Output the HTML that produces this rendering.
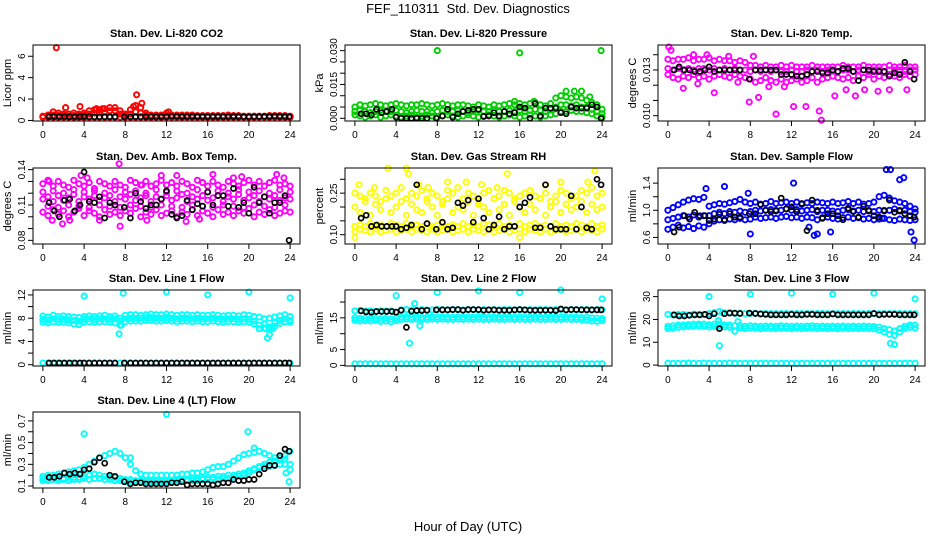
<!DOCTYPE html>
<html><head><meta charset="utf-8"><style>
body{margin:0;background:#fff}
svg{display:block;font-family:"Liberation Sans",sans-serif}
</style></head><body>
<svg id="c" width="936" height="540" viewBox="0 0 936 540">
<text x="468" y="13" text-anchor="middle" font-size="13" style="white-space:pre">FEF_110311  Std. Dev. Diagnostics</text>
<text x="468" y="531" text-anchor="middle" font-size="13">Hour of Day (UTC)</text>
</svg>
<script>
const H = [0,0.5,1,1.5,2,2.5,3,3.5,4,4.5,5,5.5,6,6.5,7,7.5,8,8.5,9,9.5,10,10.5,11,11.5,12,12.5,13,13.5,14,14.5,15,15.5,16,16.5,17,17.5,18,18.5,19,19.5,20,20.5,21,21.5,22,22.5,23,23.5,24];
const BH = [0.6,1.1,1.6,2.1,2.6,3.1,3.6,4.0,4.5,5.0,5.5,6.0,6.5,7.0,7.9,8.5,9.0,9.5,10.0,10.5,11.0,11.5,12.0,12.5,13.0,13.5,14.0,14.5,15.0,15.5,16.0,16.5,17.0,17.5,18.0,18.5,19.0,19.5,20.0,20.5,21.0,21.5,22.0,22.5,23.0,23.5,23.9];
const xTicks = [0,4,8,12,16,20,24];

// P1 CO2
const co2Base = [0.3,0.3,0.3,0.3,0.3,0.3,0.3,0.3,0.3,0.3,0.3,0.3,0.3,0.3,0.3,0.3,0.3,0.3,0.3,0.3,0.3,0.3,0.3,0.3,0.3,0.3,0.3,0.3,0.3,0.3,0.3,0.3,0.3,0.3,0.3,0.3,0.3,0.3,0.3,0.3,0.3,0.3,0.3,0.3,0.3,0.3,0.3,0.3,0.3];
const co2Mid = [0.35,0.4,0.5,0.45,0.45,0.4,0.45,0.45,0.5,0.6,0.7,0.7,0.8,0.9,0.9,0.6,0.45,0.6,0.8,0.7,0.5,0.4,0.4,0.4,0.45,0.4,0.4,0.4,0.4,0.4,0.38,0.38,0.38,0.38,0.38,0.38,0.4,0.38,0.38,0.36,0.36,0.36,0.36,0.36,0.38,0.38,0.38,0.38,0.36];
const co2Top = [0.4,0.5,0.8,0.7,0.6,0.6,0.7,0.6,0.7,0.9,1.0,1.0,1.1,1.2,1.2,0.9,0.6,1.0,1.4,1.2,0.7,0.5,0.5,0.5,0.7,0.5,0.5,0.5,0.5,0.5,0.45,0.45,0.45,0.45,0.45,0.45,0.5,0.45,0.45,0.4,0.4,0.4,0.4,0.4,0.45,0.45,0.45,0.45,0.4];
const co2OutH = [1.3,9.1,3.6,2.2,9.6,8.8,12.2,1.0,5.2,5.8];
const co2OutV = [6.8,2.4,1.3,1.2,1.6,1.3,0.8,0.8,1.1,1.1];
const co2Black = [0.35,0.36,0.35,0.34,0.35,0.33,0.35,0.36,0.35,0.34,0.35,0.35,0.36,0.35,0.33,0.35,0.36,0.35,0.34,0.35,0.33,0.34,0.35,0.4,0.38,0.36,0.35,0.37,0.35,0.35,0.34,0.35,0.36,0.35,0.34,0.36,0.35,0.34,0.33,0.35,0.36,0.38,0.36,0.4,0.37,0.36,0.35];

// P2 Pressure
const presBase = [0.0015,0.001,0.0005,0.001,0.0015,0.0005,0.001,0.0015,0.001,0.0005,0.001,0.0015,0.0005,0.001,0.0015,0.001,0.0005,0.001,0.0015,0.001,0.0005,0.001,0.0015,0.001,0.0005,0.001,0.0015,0.001,0.0005,0.001,0.0015,0.001,0.0005,0.001,0.0015,0.001,0.0005,0.001,0.0015,0.002,0.003,0.003,0.0035,0.003,0.003,0.0025,0.002,0.001,0.0005];
const presMid = [0.003,0.0035,0.003,0.0025,0.003,0.0035,0.003,0.003,0.0035,0.003,0.0025,0.003,0.0035,0.003,0.003,0.0025,0.003,0.0035,0.003,0.003,0.0035,0.003,0.0025,0.003,0.0035,0.003,0.003,0.0035,0.003,0.003,0.0035,0.003,0.0035,0.003,0.0035,0.004,0.0035,0.003,0.004,0.005,0.006,0.006,0.0055,0.006,0.005,0.005,0.004,0.003,0.002];
const presTop = [0.005,0.006,0.0055,0.006,0.0065,0.006,0.0055,0.006,0.0065,0.006,0.0055,0.006,0.006,0.0065,0.006,0.0055,0.006,0.0065,0.006,0.0055,0.006,0.006,0.0055,0.005,0.006,0.0055,0.005,0.006,0.0055,0.006,0.0065,0.006,0.0065,0.006,0.0065,0.007,0.006,0.0055,0.0065,0.009,0.01,0.0095,0.009,0.0095,0.009,0.008,0.007,0.006,0.004];
const presOutH = [8,16,23.9,20.5,21.3,22,15.5,17.4,22.8];
const presOutV = [0.030,0.029,0.030,0.012,0.012,0.012,0.0075,0.0075,0.0095];
const presBlack = [0.002,0.002,0.0015,0.004,0.0025,0.003,0.004,0.0005,0.0,0.0,0.0,0.0,0.0,0.0,0.0,0.001,0.004,0.0005,0.002,0.003,0.0035,0.004,0.004,0.0008,0.001,0.0025,0.001,0.003,0.002,0.0025,0.005,0.0045,0.0,0.0065,0.001,0.0045,0.0045,0.0045,0.0025,0.002,0.005,0.0045,0.0045,0.0045,0.006,0.005,0.0];

// P3 Li-820 temp
const tempTop = [0.0137,0.0136,0.0137,0.0137,0.0138,0.0136,0.0137,0.0137,0.0138,0.0136,0.0137,0.0136,0.0136,0.0135,0.0136,0.0135,0.0133,0.0133,0.0132,0.0133,0.0132,0.0132,0.0133,0.0132,0.0133,0.0132,0.0132,0.0132,0.0133,0.0132,0.0132,0.0132,0.0132,0.0132,0.0133,0.0132,0.0132,0.0132,0.0133,0.0132,0.0132,0.0132,0.0132,0.0133,0.0132,0.0132,0.0133,0.0132,0.0132];
const tempMid = [0.0131,0.0130,0.0131,0.0130,0.0131,0.0130,0.0131,0.0131,0.0130,0.0131,0.0130,0.0131,0.0130,0.0131,0.0130,0.0130,0.0129,0.0130,0.0129,0.0130,0.0129,0.0130,0.0129,0.0129,0.0130,0.0129,0.0129,0.0130,0.0129,0.0130,0.0129,0.0130,0.0130,0.0129,0.0130,0.0130,0.0129,0.0130,0.0130,0.0129,0.0130,0.0130,0.0129,0.0130,0.0130,0.0130,0.0129,0.0130,0.0130];
const tempLow = [0.0127,0.0125,0.0124,0.0126,0.0125,0.0127,0.0125,0.0126,0.0124,0.0126,0.0127,0.0126,0.0125,0.0127,0.0126,0.0125,0.0124,0.0122,0.0123,0.0125,0.0123,0.0122,0.0124,0.0122,0.0123,0.0124,0.0122,0.0123,0.0125,0.0122,0.0124,0.0125,0.0126,0.0125,0.0124,0.0125,0.0123,0.0126,0.0125,0.0127,0.0124,0.0126,0.0125,0.0127,0.0126,0.0125,0.0127,0.0126,0.0127];
const tempOutH = [0.1,14.7,14.9,10.5,12.2,13.4,7.9,1.5,2.9,4.5,9.8,16.2,17.3,18.2,21.5,23.2,8.8,3.8,8.3,0.3,2.5,5.9,11.3,19.1,20.4,6.8];
const tempOutV = [0.0145,0.0103,0.0097,0.0101,0.0106,0.0106,0.0109,0.0118,0.0121,0.0115,0.0119,0.0113,0.0117,0.0113,0.0117,0.0117,0.0112,0.014,0.0139,0.0143,0.014,0.0139,0.0119,0.0117,0.0116,0.0122];
const tempBlack = [0.0130,0.0132,0.0130,0.0130,0.0129,0.0129,0.0130,0.0132,0.0129,0.0130,0.0130,0.0130,0.0130,0.0130,0.0124,0.0130,0.0130,0.0130,0.0130,0.0130,0.0127,0.0127,0.0127,0.0126,0.0126,0.0127,0.0129,0.0129,0.0128,0.0128,0.0130,0.0129,0.0131,0.0131,0.0129,0.0123,0.0130,0.0130,0.0129,0.0129,0.0129,0.0126,0.0128,0.0127,0.0135,0.0129,0.0124];

// P4 amb box
const ambTop = [0.128,0.131,0.126,0.13,0.127,0.125,0.131,0.128,0.126,0.129,0.124,0.13,0.128,0.126,0.13,0.127,0.125,0.131,0.129,0.127,0.13,0.126,0.128,0.131,0.127,0.129,0.126,0.13,0.128,0.125,0.131,0.129,0.126,0.13,0.127,0.125,0.13,0.128,0.126,0.129,0.131,0.127,0.13,0.126,0.129,0.131,0.127,0.128,0.126];
const ambMid = [0.115,0.117,0.113,0.118,0.114,0.116,0.119,0.113,0.117,0.115,0.118,0.114,0.116,0.118,0.113,0.117,0.115,0.119,0.114,0.116,0.118,0.113,0.117,0.115,0.118,0.114,0.116,0.119,0.113,0.117,0.115,0.118,0.114,0.116,0.118,0.113,0.117,0.115,0.119,0.114,0.116,0.118,0.113,0.117,0.115,0.118,0.114,0.116,0.115];
const ambMid2 = [0.121,0.109,0.122,0.108,0.12,0.11,0.123,0.109,0.121,0.108,0.122,0.11,0.12,0.109,0.123,0.108,0.121,0.11,0.122,0.109,0.12,0.108,0.123,0.11,0.121,0.109,0.122,0.108,0.12,0.11,0.123,0.109,0.121,0.108,0.122,0.11,0.12,0.109,0.123,0.108,0.121,0.11,0.122,0.109,0.12,0.108,0.123,0.11,0.121];
const ambLow = [0.104,0.101,0.106,0.102,0.105,0.1,0.104,0.107,0.101,0.105,0.103,0.1,0.106,0.102,0.104,0.101,0.105,0.103,0.107,0.1,0.104,0.102,0.106,0.101,0.103,0.105,0.1,0.104,0.102,0.106,0.101,0.105,0.103,0.1,0.106,0.102,0.104,0.101,0.105,0.103,0.107,0.1,0.104,0.102,0.106,0.101,0.103,0.105,0.104];
const ambOutH = [7.4,3.7,11.5,13,16.5,22.7,0.6,5.5,1.9,7.5,0.9,23.4,9.6,4.3,15.2,19.3,2.6,10.1,18.5,13.9];
const ambOutV = [0.145,0.135,0.135,0.135,0.136,0.136,0.13,0.097,0.094,0.092,0.097,0.133,0.127,0.133,0.098,0.134,0.097,0.097,0.133,0.096];
const ambBlack = [0.112,0.105,0.1,0.114,0.115,0.105,0.11,0.138,0.113,0.112,0.117,0.099,0.112,0.11,0.108,0.099,0.12,0.113,0.107,0.11,0.11,0.115,0.122,0.102,0.099,0.101,0.114,0.106,0.111,0.109,0.121,0.11,0.118,0.118,0.109,0.124,0.108,0.112,0.103,0.125,0.112,0.117,0.103,0.112,0.112,0.118,0.08];

// P5 RH
const rhBase = [0.11,0.12,0.115,0.11,0.12,0.11,0.115,0.12,0.11,0.115,0.12,0.11,0.12,0.115,0.11,0.12,0.11,0.115,0.12,0.11,0.115,0.12,0.11,0.12,0.115,0.11,0.12,0.11,0.115,0.12,0.11,0.115,0.12,0.11,0.12,0.115,0.11,0.12,0.11,0.115,0.12,0.11,0.115,0.12,0.11,0.12,0.115,0.11,0.12];
const rhLow2 = [0.13,0.135,0.13,0.14,0.13,0.135,0.13,0.14,0.135,0.13,0.14,0.13,0.135,0.13,0.14,0.13,0.135,0.14,0.13,0.135,0.13,0.14,0.13,0.135,0.13,0.14,0.135,0.13,0.14,0.13,0.135,0.13,0.14,0.13,0.135,0.14,0.13,0.135,0.13,0.14,0.13,0.135,0.13,0.14,0.135,0.13,0.14,0.13,0.135];
const rhMid = [0.2,0.18,0.22,0.17,0.21,0.19,0.23,0.18,0.2,0.22,0.17,0.21,0.19,0.18,0.22,0.2,0.17,0.21,0.23,0.18,0.2,0.19,0.22,0.17,0.21,0.2,0.18,0.23,0.19,0.21,0.17,0.22,0.2,0.18,0.21,0.19,0.23,0.17,0.2,0.22,0.18,0.21,0.19,0.2,0.22,0.18,0.21,0.19,0.2];
const rhTop = [0.25,0.24,0.23,0.25,0.24,0.22,0.26,0.24,0.25,0.27,0.23,0.25,0.24,0.26,0.23,0.25,0.24,0.22,0.26,0.25,0.27,0.23,0.25,0.24,0.22,0.25,0.26,0.23,0.24,0.26,0.25,0.23,0.24,0.25,0.26,0.24,0.23,0.25,0.22,0.24,0.26,0.25,0.23,0.24,0.26,0.25,0.27,0.24,0.25];
const rhOutH = [3.2,5,5.2,0.4,9,10.8,14.8,20,23.3,22.6,0,16,1.9,6.2,12.3,18.5,7.1,13.8];
const rhOutV = [0.34,0.34,0.32,0.28,0.29,0.29,0.32,0.29,0.33,0.29,0.09,0.09,0.27,0.28,0.28,0.28,0.27,0.27];
const rhBlack = [0.16,0.17,0.13,0.135,0.13,0.13,0.13,0.13,0.12,0.125,0.135,0.28,0.12,0.14,0.12,0.145,0.12,0.125,0.215,0.205,0.225,0.145,0.23,0.16,0.12,0.135,0.165,0.12,0.13,0.13,0.2,0.215,0.235,0.125,0.125,0.28,0.13,0.12,0.12,0.12,0.24,0.12,0.2,0.125,0.12,0.3,0.28];

// P6 Sample flow
const sfLow = [0.72,0.75,0.78,0.74,0.76,0.73,0.77,0.75,0.8,0.84,0.86,0.85,0.87,0.86,0.88,0.86,0.87,0.9,0.88,0.89,0.9,0.88,0.9,0.91,0.89,0.9,0.88,0.9,0.89,0.86,0.89,0.9,0.88,0.87,0.89,0.9,0.88,0.89,0.87,0.88,0.86,0.87,0.88,0.86,0.85,0.87,0.86,0.85,0.86];
const sfMid = [0.86,0.88,0.9,0.92,0.9,0.93,0.9,0.92,0.92,0.95,0.97,0.95,0.98,0.97,0.99,0.97,0.98,1.0,0.99,1.0,1.01,0.99,1.0,1.02,1.0,1.01,0.99,1.0,1.01,0.98,1.0,1.0,0.99,0.98,1.0,1.01,0.99,1.0,0.98,0.99,0.98,1.0,0.99,1.0,1.02,0.99,1.0,0.98,0.97];
const sfTop = [1.0,1.04,1.08,1.12,1.15,1.17,1.16,1.19,1.06,1.08,1.1,1.09,1.11,1.13,1.16,1.12,1.1,1.12,1.09,1.1,1.13,1.1,1.11,1.12,1.1,1.12,1.09,1.11,1.1,1.12,1.11,1.1,1.12,1.1,1.11,1.13,1.1,1.12,1.09,1.1,1.12,1.2,1.22,1.18,1.14,1.12,1.1,1.06,1.02];
const sfOutH = [5.5,7.8,21.2,21.6,22.5,23.9,14.5,8,20.8,22.9,3.7,12.2,15.8,23.6,13.7,14.2];
const sfOutV = [1.35,1.25,1.6,1.6,1.45,0.56,0.65,0.65,0.88,1.48,1.32,1.4,0.68,0.68,0.75,0.63];
const sfBlack = [0.68,0.75,0.92,0.87,0.97,0.92,0.92,0.85,0.87,0.94,0.86,0.95,0.9,0.9,0.95,0.95,1.08,1.0,0.98,1.0,1.18,1.02,1.05,0.98,1.1,0.7,1.15,1.0,0.88,0.95,0.95,0.92,0.86,1.03,0.98,0.9,1.06,1.0,0.92,0.9,1.0,1.15,0.97,1.0,0.95,0.92,0.9];

// P7 Line 1
const l1Top = [8.4,8.2,8.5,8.3,8.4,8.3,8.2,8.1,8.3,8.4,8.3,8.4,8.5,8.3,8.4,8.0,8.5,8.6,8.6,8.5,8.6,8.7,8.6,8.6,8.7,8.6,8.5,8.6,8.6,8.5,8.6,8.5,8.5,8.6,8.5,8.4,8.5,8.5,8.4,8.6,8.5,8.3,8.2,7.9,8.0,8.2,8.4,8.6,8.3];
const l1Mid = [7.8,7.7,7.9,7.8,7.8,7.7,7.6,7.5,7.8,7.9,7.8,7.9,7.9,7.8,7.9,7.5,7.9,8.0,8.0,8.0,8.1,8.1,8.0,8.0,8.1,8.0,7.9,8.0,8.0,7.9,8.0,7.9,7.9,8.0,7.9,7.8,7.9,7.9,7.8,7.9,7.8,7.5,6.8,7.0,6.5,7.2,7.6,7.9,7.6];
const l1Low = [7.3,7.2,7.4,7.3,7.3,7.2,7.0,6.9,7.3,7.4,7.3,7.4,7.4,7.3,7.2,6.8,7.4,7.5,7.5,7.5,7.6,7.6,7.5,7.5,7.6,7.5,7.4,7.5,7.5,7.4,7.5,7.4,7.4,7.5,7.4,7.3,7.4,7.4,7.3,7.4,7.3,7.0,6.2,6.3,6.2,6.6,7.1,7.4,7.3];
const l1Base = [0.3,0.3,0.3,0.3,0.3,0.3,0.3,0.3,0.3,0.3,0.3,0.3,0.3,0.3,0.3,0.3,0.3,0.3,0.3,0.3,0.3,0.3,0.3,0.3,0.3,0.3,0.3,0.3,0.3,0.3,0.3,0.3,0.3,0.3,0.3,0.3,0.3,0.3,0.3,0.3,0.3,0.3,0.3,0.3,0.3,0.3,0.3,0.3,0.3];
const l1OutH = [4,7.8,12,16,20,24,7.4,21.8,21.6,22,22.3,7.6];
const l1OutV = [11.8,12.3,12.5,12.0,12.5,11.5,5.3,4.6,6.2,5.2,6.2,6.8];
const l1Black = [0.3,0.3,0.3,0.3,0.3,0.3,0.3,0.3,0.3,0.3,0.3,0.3,0.3,0.3,0.3,0.3,0.3,0.3,0.3,0.3,0.3,0.3,0.3,0.3,0.3,0.3,0.3,0.3,0.3,0.3,0.3,0.3,0.3,0.3,0.3,0.3,0.3,0.3,0.3,0.3,0.3,0.3,0.3,0.3,0.3,0.3,0.3];

// P8 Line 2
const l2Top = [17.2,17.3,17.1,17.2,17.0,17.2,17.1,17.2,16.8,17.5,17.6,17.5,17.4,17.6,17.5,17.5,17.6,17.6,17.5,17.6,17.6,17.5,17.6,17.6,17.5,17.6,17.5,17.6,17.5,17.6,17.6,17.5,17.6,17.5,17.6,17.5,17.6,17.6,17.5,17.6,17.6,17.5,17.6,17.5,17.6,17.6,17.5,17.6,17.5];
const l2Mid = [15.0,14.8,14.9,14.8,14.9,14.7,14.8,14.6,14.9,15.2,15.3,15.2,15.3,15.1,15.2,15.3,15.2,15.3,15.2,15.2,15.3,15.2,15.3,15.2,15.3,15.2,15.2,15.3,15.2,15.2,15.3,15.2,15.3,15.2,15.2,15.3,15.2,15.2,15.3,15.2,15.2,15.3,15.2,15.2,15.1,15.2,15.0,14.9,14.8];
const l2Low = [14.2,14.0,14.1,14.0,14.2,13.9,14.0,13.8,14.1,14.5,14.6,14.5,14.6,14.4,14.5,14.6,14.5,14.6,14.5,14.5,14.6,14.5,14.6,14.5,14.6,14.5,14.5,14.6,14.5,14.5,14.6,14.5,14.6,14.5,14.5,14.6,14.5,14.5,14.6,14.5,14.5,14.6,14.5,14.5,14.4,14.3,14.0,13.9,14.1];
const l2Base = [0.5,0.5,0.5,0.5,0.5,0.5,0.5,0.5,0.5,0.5,0.5,0.5,0.5,0.5,0.5,0.5,0.5,0.5,0.5,0.5,0.5,0.5,0.5,0.5,0.5,0.5,0.5,0.5,0.5,0.5,0.5,0.5,0.5,0.5,0.5,0.5,0.5,0.5,0.5,0.5,0.5,0.5,0.5,0.5,0.5,0.5,0.5,0.5,0.5];
const l2OutH = [4,8,12,16,20,24,5.3,5.8,6.3,0];
const l2OutV = [22,23,23.5,23,23.8,21,7,19.5,12.5,15];
const l2Black = [17.2,16.9,16.8,17.0,17.0,17.0,17.0,16.8,17.4,12.0,17.1,17.3,17.3,17.4,17.5,17.5,17.5,17.6,17.6,17.4,17.6,17.6,17.6,17.4,17.5,17.5,17.4,17.4,17.4,17.5,17.6,17.5,17.4,17.4,17.4,17.4,17.4,17.3,17.8,17.5,17.6,17.6,17.5,17.5,17.5,17.5,17.5];

// P9 Line 3
const l3Top = [22.2,22.0,22.1,22.2,22.0,22.3,22.2,22.1,22.5,23.0,23.5,22.8,23.0,22.6,22.8,22.5,22.6,22.7,22.5,22.6,22.6,22.5,22.6,22.6,22.5,22.6,22.5,22.6,22.5,22.6,22.6,22.5,22.6,22.5,22.6,22.5,22.6,22.6,22.5,22.6,22.6,22.5,22.6,22.5,22.6,22.6,22.5,22.6,22.5];
const l3Mid = [17.0,17.2,17.5,17.6,17.8,17.9,18.0,18.0,17.7,17.9,18.0,17.6,17.5,17.2,17.3,17.0,17.2,17.1,17.0,17.1,17.1,17.0,17.2,17.1,17.0,17.1,17.0,17.1,17.2,17.0,17.1,17.0,17.1,17.0,17.1,17.0,17.1,17.0,17.1,17.0,16.9,16.6,16.0,15.5,15.0,16.0,17.0,17.5,17.5];
const l3Low = [16.0,16.1,16.5,16.7,16.9,17.0,17.1,17.0,16.7,16.9,17.1,16.7,16.5,14.8,16.2,16.0,16.2,16.1,16.0,16.1,16.1,16.0,16.2,16.1,16.0,16.1,16.0,16.1,16.2,16.0,16.1,16.0,16.1,16.0,16.1,16.0,16.1,16.0,16.1,16.0,15.9,15.3,14.5,13.5,13.0,14.5,16.0,16.5,16.2];
const l3Base = [0.8,0.8,0.8,0.8,0.9,0.8,0.8,0.9,0.8,0.8,0.8,0.8,0.9,0.8,0.8,0.8,0.8,0.8,0.8,0.8,0.8,0.8,0.8,0.8,0.8,0.8,0.8,0.8,0.8,0.8,0.8,0.8,0.8,0.8,0.8,0.8,0.8,0.8,0.8,0.8,0.8,0.8,0.8,0.8,0.8,0.8,0.8,0.8,0.8];
const l3OutH = [4,8,12,16,20,24,5,21.6,22,6.8,4.9,5.3];
const l3OutV = [30,31,31.5,31,31.5,29,8.5,9.5,9,19,19.5,23];
const l3Black = [22.0,21.5,21.5,21.8,22.0,22.0,22.2,21.5,22.5,16.0,22.5,22.8,22.8,22.6,22.8,22.6,22.4,22.2,22.0,22.0,22.0,22.0,22.2,22.0,22.0,22.2,22.2,22.0,22.0,22.0,22.4,22.0,22.0,22.0,22.0,22.0,22.0,22.0,22.6,22.0,22.2,22.2,22.2,22.0,22.0,22.0,22.0];

// P10 Line 4 (LT)
const ltLow = [0.17,0.16,0.16,0.17,0.17,0.18,0.18,0.18,0.19,0.2,0.21,0.2,0.19,0.18,0.18,0.17,0.16,0.16,0.15,0.15,0.15,0.15,0.15,0.15,0.15,0.15,0.16,0.16,0.16,0.17,0.17,0.17,0.18,0.18,0.19,0.19,0.2,0.2,0.21,0.22,0.24,0.26,0.28,0.3,0.32,0.33,0.34,0.35,0.3];
const ltHigh = [0.19,0.2,0.2,0.21,0.22,0.23,0.24,0.25,0.27,0.3,0.33,0.36,0.38,0.4,0.42,0.4,0.36,0.3,0.24,0.21,0.2,0.2,0.2,0.2,0.2,0.2,0.2,0.21,0.21,0.22,0.22,0.23,0.25,0.27,0.28,0.28,0.3,0.33,0.36,0.39,0.4,0.41,0.42,0.4,0.38,0.36,0.36,0.38,0.42];
const ltBase = [0.15,0.15,0.16,0.15,0.16,0.15,0.16,0.16,0.17,0.16,0.17,0.17,0.16,0.16,0.15,0.15,0.14,0.14,0.14,0.14,0.14,0.14,0.14,0.14,0.14,0.14,0.15,0.15,0.15,0.15,0.15,0.16,0.16,0.16,0.16,0.17,0.17,0.18,0.19,0.2,0.22,0.25,0.27,0.28,0.28,0.29,0.3,0.3,0.25];
const ltOutH = [4,12,19.9,23.9,23.6,8.5,20.5];
const ltOutV = [0.58,0.76,0.6,0.14,0.22,0.36,0.45];
const ltBlack = [0.18,0.18,0.19,0.22,0.21,0.22,0.21,0.25,0.26,0.32,0.36,0.31,0.2,0.19,0.14,0.12,0.13,0.13,0.12,0.12,0.12,0.12,0.12,0.13,0.13,0.14,0.11,0.12,0.12,0.12,0.12,0.11,0.12,0.13,0.13,0.16,0.15,0.15,0.16,0.16,0.21,0.26,0.29,0.29,0.38,0.44,0.42];

const svg = document.getElementById('c');
const NS = 'http://www.w3.org/2000/svg';
function mk(tag, attrs, parent){const e=document.createElementNS(NS,tag);for(const k in attrs)e.setAttribute(k,attrs[k]);(parent||svg).appendChild(e);return e;}

const colX = [33,345,658], rowY = [45,168,290,412], W = 267, PH = 76;
const XD = [-0.96,24.96];
const panels = [
 {name:'co2',title:'Stan. Dev. Li-820 CO2',ylab:'Licor ppm',c:0,r:0,yd:[-0.05,7.05],ticks:[0,2,4,6],labels:['0','2','4','6'],col:'#ff0000',
  series:[[H,co2Base],[H,co2Mid],[H,co2Top],[co2OutH,co2OutV]],black:co2Black},
 {name:'pressure',title:'Stan. Dev. Li-820 Pressure',ylab:'kPa',c:1,r:0,yd:[-0.0012,0.0325],ticks:[0,0.005,0.01,0.015,0.02,0.025,0.03],labels:['0.000','','','0.015','','','0.030'],col:'#00cc00',
  series:[[H,presBase],[H,presMid],[H,presTop],[presOutH,presOutV]],black:presBlack},
 {name:'li820-temp',title:'Stan. Dev. Li-820 Temp.',ylab:'degrees C',c:2,r:0,yd:[0.00965,0.01464],ticks:[0.010,0.011,0.012,0.013,0.014],labels:['0.010','','','0.013',''],col:'#ff00ff',
  series:[[H,tempLow],[H,tempMid],[H,tempTop],[tempOutH,tempOutV]],black:tempBlack},
 {name:'amb-box-temp',title:'Stan. Dev. Amb. Box Temp.',ylab:'degrees C',c:0,r:1,yd:[0.0769,0.1414],ticks:[0.08,0.09,0.10,0.11,0.12,0.13,0.14],labels:['0.08','','','0.11','','','0.14'],col:'#ff00ff',
  series:[[H,ambLow],[H,ambMid],[H,ambMid2],[H,ambTop],[ambOutH,ambOutV]],black:ambBlack},
 {name:'gas-stream-rh',title:'Stan. Dev. Gas Stream RH',ylab:'percent',c:1,r:1,yd:[0.0664,0.3408],ticks:[0.10,0.15,0.20,0.25,0.30],labels:['0.10','','','0.25',''],col:'#ffff00',
  series:[[H,rhBase],[H,rhLow2],[H,rhMid],[H,rhTop],[rhOutH,rhOutV]],black:rhBlack},
 {name:'sample-flow',title:'Stan. Dev. Sample Flow',ylab:'ml/min',c:2,r:1,yd:[0.503,1.623],ticks:[0.6,0.8,1.0,1.2,1.4],labels:['0.6','','1.0','','1.4'],col:'#0000ff',
  series:[[H,sfLow],[H,sfMid],[H,sfTop],[sfOutH,sfOutV]],black:sfBlack},
 {name:'line1-flow',title:'Stan. Dev. Line 1 Flow',ylab:'ml/min',c:0,r:2,yd:[-0.22,12.85],ticks:[0,2,4,6,8,10,12],labels:['0','','4','','8','','12'],col:'#00ffff',
  series:[[H,l1Base],[H,l1Low],[H,l1Mid],[H,l1Top],[l1OutH,l1OutV]],black:l1Black},
 {name:'line2-flow',title:'Stan. Dev. Line 2 Flow',ylab:'ml/min',c:1,r:2,yd:[-0.2,23.8],ticks:[0,5,10,15,20],labels:['0','5','','15',''],col:'#00ffff',
  series:[[H,l2Base],[H,l2Low],[H,l2Mid],[H,l2Top],[l2OutH,l2OutV]],black:l2Black},
 {name:'line3-flow',title:'Stan. Dev. Line 3 Flow',ylab:'ml/min',c:2,r:2,yd:[-0.4,32.9],ticks:[0,10,20,30],labels:['0','10','20','30'],col:'#00ffff',
  series:[[H,l3Base],[H,l3Low],[H,l3Mid],[H,l3Top],[l3OutH,l3OutV]],black:l3Black},
 {name:'line4-flow',title:'Stan. Dev. Line 4 (LT) Flow',ylab:'ml/min',c:0,r:3,yd:[0.082,0.782],ticks:[0.1,0.2,0.3,0.4,0.5,0.6,0.7],labels:['0.1','','0.3','','0.5','','0.7'],col:'#00ffff',
  series:[[H,ltBase],[H,ltLow],[H,ltHigh],[ltOutH,ltOutV]],black:ltBlack}
];

panels.forEach(p=>{
  const x0=colX[p.c], y0=rowY[p.r];
  const sx=h=>x0+(h-XD[0])/(XD[1]-XD[0])*W;
  const sy=v=>y0+PH-(v-p.yd[0])/(p.yd[1]-p.yd[0])*PH;
  const g=mk('g',{});
  
  
  const t=mk('text',{x:x0+W/2,y:y0-8,'text-anchor':'middle','font-size':'11','font-weight':'bold'},g);
  t.textContent=p.title;
  
  
  const yl=mk('text',{x:0,y:0,'text-anchor':'middle','font-size':'11',transform:`translate(${x0-22},${y0+PH/2}) rotate(-90)`},g);
  yl.textContent=p.ylab;
  
  
  const pts=mk('g',{},g);
  
  
  p.series.forEach(s=>{
    s[0].forEach((h,i)=>{
      const c=mk('circle',{cx:sx(h).toFixed(1),cy:sy(s[1][i]).toFixed(1),r:2.6,fill:'none',stroke:p.col,'stroke-width':1.9},pts);
      
      
    });
  });
  BH.forEach((h,i)=>{
    const c=mk('circle',{cx:sx(h).toFixed(1),cy:sy(p.black[i]).toFixed(1),r:2.5,fill:'none',stroke:'#000','stroke-width':1.7},pts);
    
    
  });
  const box=mk('rect',{x:x0,y:y0,width:W,height:PH,fill:'none',stroke:'#000','stroke-width':1},g);
  
  
  xTicks.forEach(h=>{
    mk('line',{x1:sx(h),x2:sx(h),y1:y0+PH,y2:y0+PH+5,stroke:'#000'},g);
    const tl=mk('text',{x:sx(h),y:y0+PH+17,'text-anchor':'middle','font-size':'10'},g);
    tl.textContent=String(h);
    
    
  });
  p.ticks.forEach((v,i)=>{
    mk('line',{x1:x0-5,x2:x0,y1:sy(v),y2:sy(v),stroke:'#000'},g);
    if(p.labels[i]){
      const tl=mk('text',{x:0,y:0,'text-anchor':'middle','font-size':'10',transform:`translate(${x0-8},${sy(v)}) rotate(-90)`},g);
      tl.textContent=p.labels[i];
      
      
    }
  });
});
</script>
</body></html>
